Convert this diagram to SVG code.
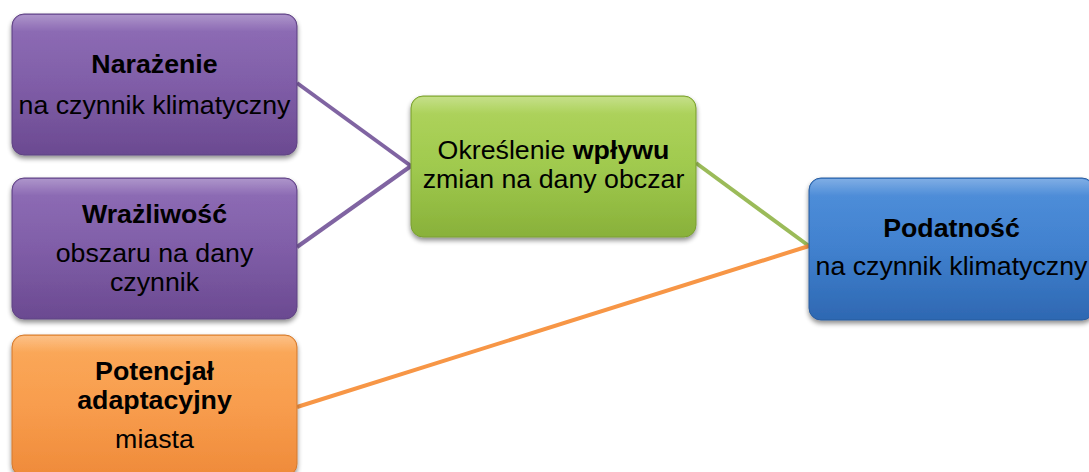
<svg xmlns="http://www.w3.org/2000/svg" width="1089" height="472" viewBox="0 0 1089 472">
<defs>
<linearGradient id="gPurple" x1="0" y1="0" x2="0" y2="1">
<stop offset="0" stop-color="#8966b3"/>
<stop offset="0.5" stop-color="#7c59a5"/>
<stop offset="1" stop-color="#6b4a91"/>
</linearGradient>
<linearGradient id="gGreen" x1="0" y1="0" x2="0" y2="1">
<stop offset="0" stop-color="#acd255"/>
<stop offset="0.5" stop-color="#9dc849"/>
<stop offset="1" stop-color="#89b13a"/>
</linearGradient>
<linearGradient id="gBlue" x1="0" y1="0" x2="0" y2="1">
<stop offset="0" stop-color="#478ad9"/>
<stop offset="0.5" stop-color="#3b7dcd"/>
<stop offset="1" stop-color="#2e68b2"/>
</linearGradient>
<linearGradient id="gOrange" x1="0" y1="0" x2="0" y2="1">
<stop offset="0" stop-color="#fba552"/>
<stop offset="0.5" stop-color="#f89a48"/>
<stop offset="1" stop-color="#ef8b3a"/>
</linearGradient>
<linearGradient id="gloss" x1="0" y1="0" x2="0" y2="1">
<stop offset="0" stop-color="#ffffff" stop-opacity="0.3"/>
<stop offset="0.12" stop-color="#ffffff" stop-opacity="0.05"/>
<stop offset="1" stop-color="#ffffff" stop-opacity="0"/>
</linearGradient>
<filter id="shadow" x="-10%" y="-10%" width="120%" height="130%">
<feGaussianBlur in="SourceAlpha" stdDeviation="2.5"/>
<feOffset dx="0" dy="3" result="b"/>
<feComponentTransfer><feFuncA type="linear" slope="0.45"/></feComponentTransfer>
<feMerge><feMergeNode/><feMergeNode in="SourceGraphic"/></feMerge>
</filter>
</defs>
<style>
.box{filter:url(#shadow);stroke-width:1}
.gl{fill:url(#gloss);stroke:none}
.t{font-family:"Liberation Sans",Arial,sans-serif;font-size:25px;fill:#000;text-anchor:middle}
.b{font-weight:bold}
.c{fill:none;stroke-width:4;stroke-linecap:butt}
</style>
<g id="connectors">
<line class="c" x1="297" y1="83" x2="411" y2="166" stroke="#8064a2"/>
<line class="c" x1="297" y1="247" x2="411" y2="166" stroke="#8064a2"/>
<line class="c" x1="696" y1="163" x2="809" y2="246" stroke="#9bbb59"/>
<line class="c" x1="297" y1="407" x2="809" y2="246" stroke="#f79646"/>
</g>
<g id="node-narazenie">
<rect class="box" x="12" y="14" width="285" height="141" rx="12" fill="url(#gPurple)" stroke="#5f4382"/>
<rect class="gl" x="13" y="15" width="283" height="139" rx="11"/>
<g transform="translate(154.5 0) scale(1.07 1)">
<text class="t b" x="0" y="73">Narażenie</text>
<text class="t" x="0" y="114">na czynnik klimatyczny</text>
</g>
</g>
<g id="node-wrazliwosc">
<rect class="box" x="12" y="178" width="285" height="141" rx="12" fill="url(#gPurple)" stroke="#5f4382"/>
<rect class="gl" x="13" y="179" width="283" height="139" rx="11"/>
<g transform="translate(154.5 0) scale(1.07 1)">
<text class="t b" x="0" y="223">Wrażliwość</text>
<text class="t" x="0" y="262">obszaru na dany</text>
<text class="t" x="0" y="291">czynnik</text>
</g>
</g>
<g id="node-potencjal">
<rect class="box" x="12" y="335" width="285" height="141" rx="12" fill="url(#gOrange)" stroke="#d27a30"/>
<rect class="gl" x="13" y="336" width="283" height="139" rx="11"/>
<g transform="translate(154.5 0) scale(1.07 1)">
<text class="t b" x="0" y="380">Potencjał</text>
<text class="t b" x="0" y="409">adaptacyjny</text>
<text class="t" x="0" y="448">miasta</text>
</g>
</g>
<g id="node-okreslenie">
<rect class="box" x="411" y="96" width="285" height="141" rx="12" fill="url(#gGreen)" stroke="#7a9e34"/>
<rect class="gl" x="412" y="97" width="283" height="139" rx="11"/>
<g transform="translate(553.5 0) scale(1.07 1)">
<text class="t" x="0" y="159">Określenie <tspan class="b">wpływu</tspan></text>
<text class="t" x="0" y="188">zmian na dany obczar</text>
</g>
</g>
<g id="node-podatnosc">
<rect class="box" x="809" y="178" width="285" height="142" rx="12" fill="url(#gBlue)" stroke="#2a5c9e"/>
<rect class="gl" x="810" y="179" width="283" height="140" rx="11"/>
<g transform="translate(951.5 0) scale(1.07 1)">
<text class="t b" x="0" y="237">Podatność</text>
<text class="t" x="0" y="275">na czynnik klimatyczny</text>
</g>
</g>
</svg>
